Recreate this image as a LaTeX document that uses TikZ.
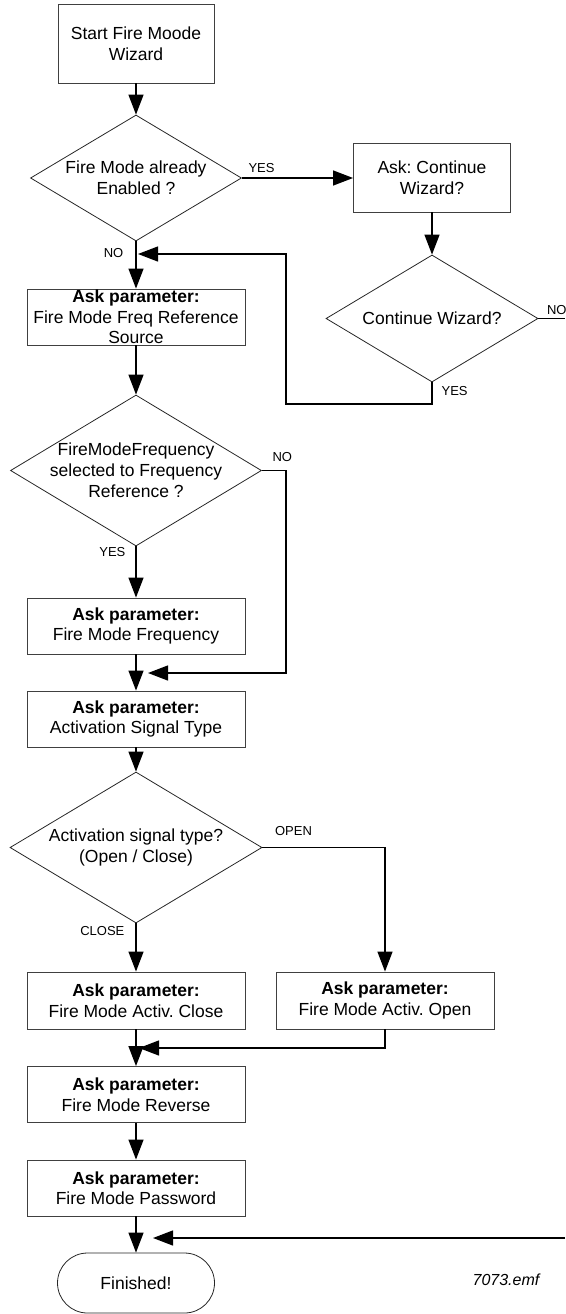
\documentclass[tikz,border=0pt]{standalone}
\usepackage{fontspec}
\setmainfont{Liberation Sans}
\frenchspacing
\usetikzlibrary{shapes.geometric,arrows.meta,positioning}

\begin{document}
\begin{tikzpicture}[x=1pt,y=-1pt,
    box/.style={draw=black!75,line width=0.9pt,minimum width=218pt,minimum height=56pt,
        inner sep=0pt,align=center,font=\fontsize{17.5pt}{20.5pt}\selectfont},
    decision/.style={draw=black!85,line width=0.8pt,diamond,inner sep=0pt},
    qtext/.style={align=center,inner sep=0pt,font=\fontsize{17.5pt}{21pt}\selectfont},
    lbl/.style={inner sep=0pt,font=\fontsize{13pt}{15pt}\selectfont},
    flow/.style={line width=1.3pt,-{Triangle[length=20pt,width=15pt]}},
    wire/.style={line width=1.3pt}]
    \useasboundingbox (0,0) rectangle (565,1314);

    % Start
    \node[box,minimum width=156pt,minimum height=79pt] (start) at (136,43.5) {Start Fire Moode\\Wizard};

    % Already enabled?
    \node[decision,minimum width=211pt,minimum height=126pt,
        label={[qtext]center:Fire Mode already\\Enabled ?}] (enabled) at (136,178) {};
    \draw[flow] (start) -- (enabled);

    % Continue wizard branch
    \node[box,minimum width=157pt,minimum height=69pt] (askcont) at (432,177.5) {Ask: Continue\\Wizard?};
    \draw[flow] (enabled.east) -- node[lbl,pos=0,above right=5pt and 6pt] {YES} (enabled.east -| askcont.west);

    \node[decision,minimum width=212pt,minimum height=127pt,
        label={[qtext]center:Continue Wizard?}] (contq) at (432,318.5) {};
    \draw[flow] (askcont) -- (contq);

    \coordinate (noout) at (565,318.5);
    \draw[wire] (contq.east) -- node[lbl,pos=0,above right=3pt and 8pt] {NO} (noout);

    \coordinate (loopturn) at (286,404);
    \coordinate (loopin) at (138,254);
    \draw[flow] (contq.south) |- node[lbl,pos=0,below right=3pt and 9pt] {YES} (loopturn) |- (loopin);

    % Freq reference source
    \node[box] (freqsrc) at (136,317) {\textbf{Ask parameter:}\\Fire Mode Freq Reference\\Source};
    \draw[flow] (enabled) -- node[lbl,pos=0,below left=6pt and 12pt] {NO} (freqsrc);

    \node[decision,minimum width=251pt,minimum height=151pt,
        label={[qtext]center:FireModeFrequency\\selected to Frequency\\Reference ?}] (freqsel) at (136,470.5) {};
    \draw[flow] (freqsrc) -- (freqsel);

    % Frequency
    \node[box] (freqval) at (136,626) {\textbf{Ask parameter:}\\Fire Mode Frequency};
    \draw[flow] (freqsel) -- node[lbl,pos=0,below left=0pt and 10pt] {YES} (freqval);

    \coordinate (noturn) at (286,673);
    \coordinate (nojoin) at (148,673);
    \draw[flow] (freqsel.east) -| node[lbl,pos=0,above right=8pt and 10pt] {NO} (noturn) -- (nojoin);

    % Activation signal
    \node[box] (sigtype) at (136,719) {\textbf{Ask parameter:}\\Activation Signal Type};
    \draw[flow] (freqval) -- (sigtype);

    \node[decision,minimum width=252pt,minimum height=151pt,
        label={[qtext]center:Activation signal type?\\(Open / Close)}] (sigq) at (136,847.5) {};
    \draw[flow] (sigtype) -- (sigq);

    \node[box,minimum height=57pt] (actclose) at (136,1000.5) {\textbf{Ask parameter:}\\Fire Mode Activ. Close};
    \node[box,minimum height=57pt] (actopen) at (385,1000.5) {\textbf{Ask parameter:}\\Fire Mode Activ. Open};
    \draw[flow] (sigq) -- node[lbl,pos=0,below left=2pt and 11pt] {CLOSE} (actclose);
    \draw[flow] (sigq.east) -| node[lbl,pos=0,above right=11pt and 12pt] {OPEN} (actopen);

    % Reverse and password
    \node[box] (reverse) at (136,1094.5) {\textbf{Ask parameter:}\\Fire Mode Reverse};
    \draw[flow] (actclose) -- (reverse);
    \coordinate (mergein) at (139,1048);
    \draw[flow] (actopen) |- (mergein);

    \node[box] (passwd) at (136,1188) {\textbf{Ask parameter:}\\Fire Mode Password};
    \draw[flow] (reverse) -- (passwd);

    % End
    \node[box,draw=black!85,line width=0.8pt,rounded corners=30pt,minimum width=157pt,minimum height=60pt] (finish) at (136,1283) {Finished!};
    \draw[flow] (passwd) -- (finish);

    \coordinate (noback) at (565,1238);
    \coordinate (finin) at (153,1238);
    \draw[flow] (noback) -- (finin);

    \node[inner sep=0pt,font=\itshape\fontsize{16pt}{18pt}\selectfont] (emfname) at (506,1280) {7073.emf};
\end{tikzpicture}
\end{document}
